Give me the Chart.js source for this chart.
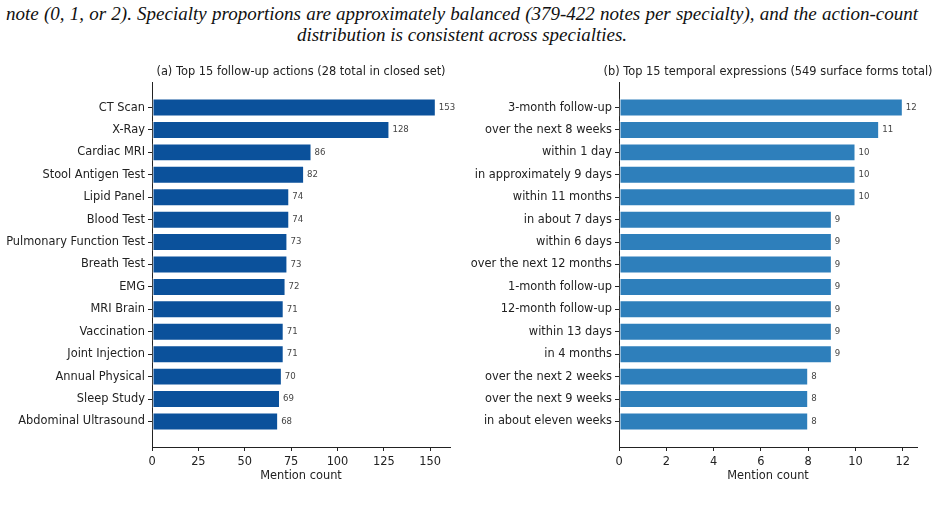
<!DOCTYPE html>
<html>
<head>
<meta charset="utf-8">
<script src="https://cdn.jsdelivr.net/npm/chart.js@4.4.1/dist/chart.umd.min.js"></script>
<style>
  body { margin: 0; width: 936px; height: 513px; background: #fff; overflow: hidden; position: relative; }
  .cap { position: absolute; font-family: "Liberation Serif", serif; font-style: italic; font-size: 19px; line-height: 21px; color: #111; white-space: nowrap; }
  #capA { top: 3px; left: 6px; width: 912px; text-align: justify; text-align-last: justify; white-space: normal; }
  #capB { top: 24px; left: 0; width: 924px; text-align: center; }
  #wrapA { position: absolute; left: 0; top: 50px; width: 470px; height: 450px; }
  #wrapB { position: absolute; left: 470px; top: 50px; width: 466px; height: 450px; }
</style>
</head>
<body>
<div class="cap" id="capA">note (0, 1, or 2). Specialty proportions are approximately balanced (379-422 notes per specialty), and the action-count</div>
<div class="cap" id="capB">distribution is consistent across specialties.</div>
<div id="wrapA"><canvas id="chartA"></canvas></div>
<div id="wrapB"><canvas id="chartB"></canvas></div>
<script>
// (a) follow-up actions
var actions = ['CT Scan', 'X-Ray', 'Cardiac MRI', 'Stool Antigen Test', 'Lipid Panel', 'Blood Test',
  'Pulmonary Function Test', 'Breath Test', 'EMG', 'MRI Brain', 'Vaccination', 'Joint Injection',
  'Annual Physical', 'Sleep Study', 'Abdominal Ultrasound'];
var actionCounts = [153, 128, 86, 82, 74, 74, 73, 73, 72, 71, 71, 71, 70, 69, 68];

// (b) temporal expressions
var temporals = ['3-month follow-up', 'over the next 8 weeks', 'within 1 day', 'in approximately 9 days',
  'within 11 months', 'in about 7 days', 'within 6 days', 'over the next 12 months', '1-month follow-up',
  '12-month follow-up', 'within 13 days', 'in 4 months', 'over the next 2 weeks', 'over the next 9 weeks',
  'in about eleven weeks'];
var temporalCounts = [12, 11, 10, 10, 10, 9, 9, 9, 9, 9, 9, 9, 8, 8, 8];

var titleA = '(a) Top 15 follow-up actions (28 total in closed set)';
var titleB = '(b) Top 15 temporal expressions (549 surface forms total)';

var FONT = '"DejaVu Sans", sans-serif';
var INK = '#222';
var SIZE = 11.4;

// titles over the plot area + value labels at the bar ends
var annotate = {
  id: 'annotate',
  afterDatasetsDraw: function (chart) {
    var ctx = chart.ctx, area = chart.chartArea;
    ctx.save();
    ctx.fillStyle = INK;
    ctx.font = SIZE + 'px ' + FONT;
    ctx.textAlign = 'center';
    ctx.textBaseline = 'middle';
    ctx.fillText(chart.options.plugins.panelTitle, (area.left + area.right) / 2, 22);
    ctx.fillStyle = '#444';
    ctx.font = '8.6px ' + FONT;
    ctx.textAlign = 'left';
    var meta = chart.getDatasetMeta(0);
    var vals = chart.data.datasets[0].data;
    meta.data.forEach(function (bar, i) {
      ctx.fillText(String(vals[i].x), bar.x + 3, bar.y);
    });
    ctx.restore();
  }
};

function makeChart(id, labels, values, color, xMax, step, yWidth, padRight, title) {
  var n = labels.length;
  return new Chart(document.getElementById(id), {
    type: 'bar',
    data: {
      datasets: [{
        data: values.map(function (v, i) { return { x: v, y: i }; }),
        backgroundColor: color,
        borderColor: 'rgba(255,255,255,0.6)',
        borderWidth: 1,
        borderSkipped: false,
        barPercentage: 0.8,
        categoryPercentage: 1
      }]
    },
    plugins: [annotate],
    options: {
      indexAxis: 'y',
      responsive: true,
      maintainAspectRatio: false,
      animation: false,
      layout: { padding: { top: 32, right: padRight, bottom: 10, left: 0 } },
      plugins: { legend: { display: false }, tooltip: { enabled: false }, panelTitle: title },
      scales: {
        x: {
          type: 'linear',
          min: 0,
          max: xMax,
          border: { color: INK, width: 1 },
          grid: { drawOnChartArea: false, tickLength: 4, tickColor: INK },
          ticks: { stepSize: step, includeBounds: false, color: INK, padding: 4, maxRotation: 0,
            font: { family: FONT, size: SIZE } },
          title: { display: true, text: 'Mention count', color: INK, padding: { top: 0, bottom: 7 },
            font: { family: FONT, size: SIZE } },
          afterFit: function (s) { s.height = 43; }
        },
        y: {
          type: 'linear',
          reverse: true,
          offset: false,
          min: -1.14,
          max: n - 1 + 1.14,
          border: { color: INK, width: 1 },
          grid: { offset: false, drawOnChartArea: false, tickLength: 4, tickColor: INK },
          ticks: { color: INK, padding: 3, font: { family: FONT, size: SIZE },
            callback: function (v) { return labels[v]; } },
          afterBuildTicks: function (s) { s.ticks = labels.map(function (l, i) { return { value: i }; }); },
          afterFit: function (s) { s.width = yWidth; }
        }
      }
    }
  });
}

makeChart('chartA', actions, actionCounts, '#0b519b', 160.65, 25, 152, 20, titleA);
makeChart('chartB', temporals, temporalCounts, '#2e7fbb', 12.6, 2, 149, 19, titleB);
</script>
</body>
</html>
